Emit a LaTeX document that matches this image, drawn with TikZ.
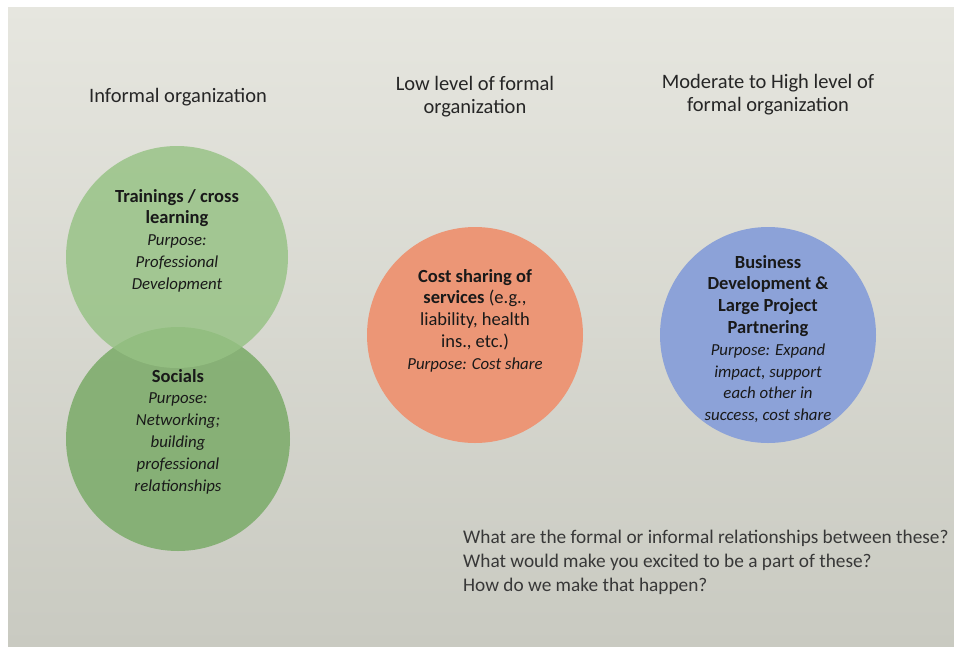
\documentclass[tikz,border=0pt]{standalone}
\usepackage{fontspec}
\setmainfont{Carlito}
\newcommand\pur[1]{{\fontsize{16.8}{21}\selectfont\itshape #1}}
\begin{document}
\begin{tikzpicture}[x=1pt,y=-1pt,
  disc/.style={circle, inner sep=0pt, minimum size=#1, draw=none},
  head/.style={align=center, font=\fontsize{20.5}{23}\selectfont, text=black!85},
  body/.style={align=center, inner sep=0pt, anchor=north, font=\fontsize{18.5}{21.8}\selectfont, text=black!90},
  ask/.style={align=left, anchor=north west, inner sep=0pt, font=\fontsize{19.3}{24}\selectfont, text=black!78}]
\definecolor{paperTop}{RGB}{230,230,223}
\definecolor{paperBot}{RGB}{201,202,193}
\definecolor{greenA}{RGB}{150,194,132}
\definecolor{greenB}{RGB}{131,175,114}
\definecolor{peach}{RGB}{236,150,118}
\definecolor{bluish}{RGB}{140,162,216}
% page and photographed sheet
\useasboundingbox (0,0) rectangle (954,646);
\fill[white] (0,0) rectangle (954,646);
\shade[top color=paperTop, bottom color=paperBot] (8,7) rectangle (954,646);
% column headings
\node[head] (h1) at (178,97) {Informal organization};
\node[head] (h2) at (475,97) {Low level of formal\\organization};
\node[head] (h3) at (768,95) {Moderate to High level of\\formal organization};
% circles
\node[disc=224pt, fill=greenB, fill opacity=0.95] (socials) at (178,439) {};
\node[disc=222pt, fill=greenA, fill opacity=0.82] (train) at (177,257) {};
\node[disc=216pt, fill=peach] (cost) at (475,335) {};
\node[disc=216pt, fill=bluish] (biz) at (768,335) {};
% circle texts
\node[body] (trainT) at (177,189) {\textbf{Trainings / cross}\\\textbf{learning}\\\pur{Purpose:}\\\pur{Professional}\\\pur{Development}};
\node[body] (socT) at (178,369) {\textbf{Socials}\\\pur{Purpose:}\\\pur{Networking;}\\\pur{building}\\\pur{professional}\\\pur{relationships}};
\node[body] (costT) at (475,269) {\textbf{Cost sharing of}\\\textbf{services} (e.g.,\\liability, health\\ins., etc.)\\\pur{Purpose: Cost share}};
\node[body] (bizT) at (768,255) {\textbf{Business}\\\textbf{Development \&}\\\textbf{Large Project}\\\textbf{Partnering}\\\pur{Purpose: Expand}\\\pur{impact, support}\\\pur{each other in}\\\pur{success, cost share}};
% questions
\node[ask] (q) at (463,530) {What are the formal or informal relationships between these?\\What would make you excited to be a part of these?\\How do we make that happen?};
\end{tikzpicture}
\end{document}
